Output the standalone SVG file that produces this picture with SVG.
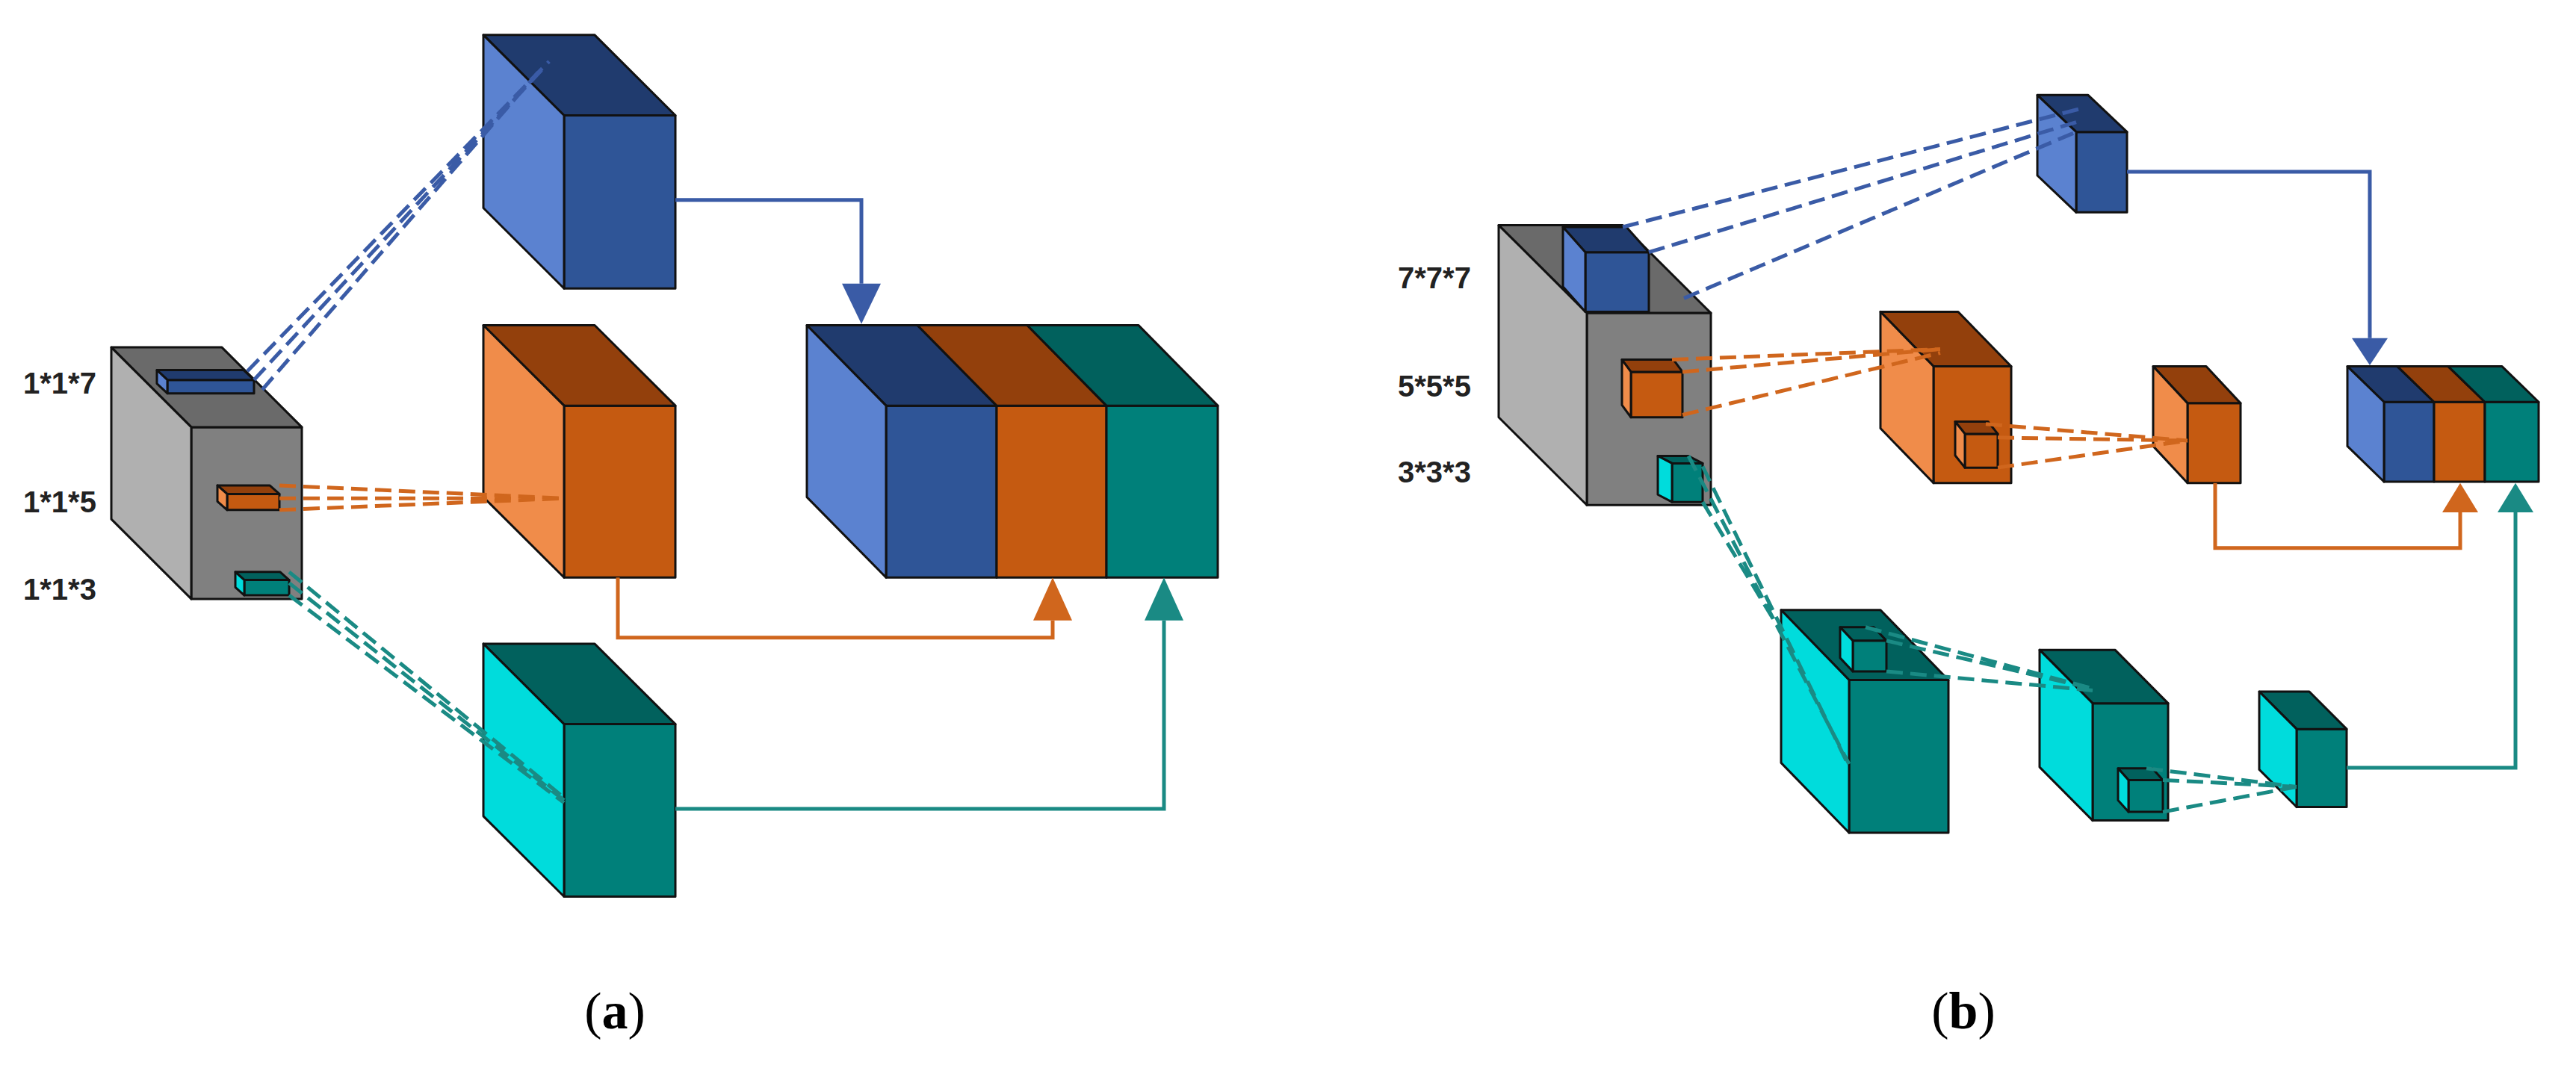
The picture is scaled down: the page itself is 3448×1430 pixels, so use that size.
<svg xmlns="http://www.w3.org/2000/svg" width="3448" height="1430" viewBox="0 0 3448 1430">
<style>
.k{stroke:#111;stroke-width:3;stroke-linejoin:round}
.k *, .d, .a{vector-effect:non-scaling-stroke}
.bf{fill:#2f5597}.bs{fill:#5b82d0}.bt{fill:#203b6e}
.of{fill:#c55a11}.os{fill:#f08c4a}.ot{fill:#93400c}
.tf{fill:#00807a}.ts{fill:#00dcdc}.tt{fill:#01615d}
.gf{fill:#808080}.gs{fill:#b0b0b0}.gt{fill:#6a6a6a}
.d{fill:none;stroke-width:5;stroke-dasharray:22 10}
.a{fill:none;stroke-width:5}
.lab{font-family:"Liberation Sans",Arial,sans-serif;font-weight:bold;font-size:40px;fill:#222}
.cap{font-family:"Liberation Serif","Times New Roman",serif;font-size:70px;fill:#000}
</style>
<rect width="3448" height="1430" fill="#fff"/>
<g transform="scale(1,0.8217)">
<!-- panel a -->
<g id="a-grey" class="k"><rect class="gf" x="256" y="696" width="148" height="280"/><polygon class="gt" points="256,696 404,696 297,566 149,566"/><polygon class="gs" points="256,696 149,566 149,846 256,976"/></g>
<g id="a-k7" class="k"><rect class="bf" x="224" y="619" width="116" height="22"/><polygon class="bt" points="224,619 340,619 326,603 210,603"/><polygon class="bs" points="224,619 210,603 210,625 224,641"/></g>
<g id="a-k5" class="k"><rect class="of" x="304" y="805" width="70" height="26"/><polygon class="ot" points="304,805 374,805 361,791 291,791"/><polygon class="os" points="304,805 291,791 291,817 304,831"/></g>
<g id="a-k3" class="k"><rect class="tf" x="327" y="945" width="60" height="25"/><polygon class="tt" points="327,945 387,945 375,932 315,932"/><polygon class="ts" points="327,945 315,932 315,957 327,970"/></g>
<g id="a-blue" class="k"><rect class="bf" x="755" y="188" width="149" height="282"/><polygon class="bt" points="755,188 904,188 796,57 647,57"/><polygon class="bs" points="755,188 647,57 647,339 755,470"/></g>
<g id="a-orange" class="k"><rect class="of" x="755" y="661" width="149" height="280"/><polygon class="ot" points="755,661 904,661 796,530 647,530"/><polygon class="os" points="755,661 647,530 647,810 755,941"/></g>
<g id="a-teal" class="k"><rect class="tf" x="755" y="1180" width="149" height="281"/><polygon class="tt" points="755,1180 904,1180 796,1049 647,1049"/><polygon class="ts" points="755,1180 647,1049 647,1330 755,1461"/></g>
<g id="a-concat" class="k">
<rect class="bf" x="1186" y="661" width="148" height="280"/><rect class="of" x="1334" y="661" width="147" height="280"/><rect class="tf" x="1481" y="661" width="149" height="280"/>
<polygon class="bt" points="1186,661 1334,661 1228,530 1080,530"/><polygon class="ot" points="1334,661 1481,661 1375,530 1228,530"/><polygon class="tt" points="1481,661 1630,661 1524,530 1375,530"/>
<polygon class="bs" points="1186,661 1080,530 1080,810 1186,941"/></g>
<!-- panel b -->
<g id="b-grey" class="k"><rect class="gf" x="2124" y="510" width="166" height="313"/><polygon class="gt" points="2124,510 2290,510 2172,367 2006,367"/><polygon class="gs" points="2124,510 2006,367 2006,680 2124,823"/></g>
<g id="b-k7" class="k"><rect class="bf" x="2122" y="411" width="85" height="97"/><polygon class="bt" points="2122,411 2207,411 2177,370 2092,370"/><polygon class="bs" points="2122,411 2092,370 2092,467 2122,508"/></g>
<g id="b-k5" class="k"><rect class="of" x="2183" y="606" width="69" height="74"/><polygon class="ot" points="2183,606 2252,606 2240,586 2171,586"/><polygon class="os" points="2183,606 2171,586 2171,660 2183,680"/></g>
<g id="b-k3" class="k"><rect class="tf" x="2238" y="755" width="41" height="63"/><polygon class="tt" points="2238,755 2279,755 2260,743 2219,743"/><polygon class="ts" points="2238,755 2219,743 2219,806 2238,818"/></g>
<g id="b-blue" class="k"><rect class="bf" x="2779" y="215" width="68" height="131"/><polygon class="bt" points="2779,215 2847,215 2795,155 2727,155"/><polygon class="bs" points="2779,215 2727,155 2727,286 2779,346"/></g>
<g id="b-orange1" class="k"><rect class="of" x="2588" y="597" width="104" height="190"/><polygon class="ot" points="2588,597 2692,597 2621,508 2517,508"/><polygon class="os" points="2588,597 2517,508 2517,698 2588,787"/>
<rect class="of" x="2630" y="707" width="44" height="55"/><polygon class="ot" points="2630,707 2674,707 2661,687 2617,687"/><polygon class="os" points="2630,707 2617,687 2617,742 2630,762"/></g>
<g id="b-orange2" class="k"><rect class="of" x="2928" y="657" width="71" height="130"/><polygon class="ot" points="2928,657 2999,657 2953,597 2882,597"/><polygon class="os" points="2928,657 2882,597 2882,727 2928,787"/></g>
<g id="b-concat" class="k">
<rect class="bf" x="3191" y="655" width="67" height="130"/><rect class="of" x="3258" y="655" width="68" height="130"/><rect class="tf" x="3326" y="655" width="72" height="130"/>
<polygon class="bt" points="3191,655 3258,655 3209,597 3142,597"/><polygon class="ot" points="3258,655 3326,655 3277,597 3209,597"/><polygon class="tt" points="3326,655 3398,655 3349,597 3277,597"/>
<polygon class="bs" points="3191,655 3142,597 3142,727 3191,785"/></g>
<g id="b-teal1" class="k"><rect class="tf" x="2475" y="1108" width="133" height="249"/><polygon class="tt" points="2475,1108 2608,1108 2517,994 2384,994"/><polygon class="ts" points="2475,1108 2384,994 2384,1243 2475,1357"/>
<rect class="tf" x="2480" y="1044" width="45" height="50"/><polygon class="tt" points="2480,1044 2525,1044 2508,1022 2463,1022"/><polygon class="ts" points="2480,1044 2463,1022 2463,1072 2480,1094"/></g>
<g id="b-teal2" class="k"><rect class="tf" x="2801" y="1146" width="101" height="191"/><polygon class="tt" points="2801,1146 2902,1146 2831,1059 2730,1059"/><polygon class="ts" points="2801,1146 2730,1059 2730,1250 2801,1337"/>
<rect class="tf" x="2849" y="1271" width="46" height="52"/><polygon class="tt" points="2849,1271 2895,1271 2881,1252 2835,1252"/><polygon class="ts" points="2849,1271 2835,1252 2835,1304 2849,1323"/></g>
<g id="b-teal3" class="k"><rect class="tf" x="3074" y="1188" width="67" height="127"/><polygon class="tt" points="3074,1188 3141,1188 3091,1127 3024,1127"/><polygon class="ts" points="3074,1188 3024,1127 3024,1254 3074,1315"/></g>
<!-- connectors -->
<g id="connectors">
<g stroke="#3a5ba6"><path class="d" d="M331,605 L735,100 M340,619 L728,110 M351,635 L720,118"/>
<path class="d" d="M2172,370 L2785,177 M2207,411 L2779,199 M2254,486 L2779,215"/>
<path class="a" d="M904,326 H1153 V462 M2847,280 H3172 V551"/></g>
<polygon fill="#3a5ba6" points="1127,462 1179,462 1153,528"/><polygon fill="#3a5ba6" points="3148,551 3196,551 3172,595"/>
<g stroke="#d0661d"><path class="d" d="M374,791 L755,812 M374,812 L755,812 M374,831 L755,812"/>
<path class="d" d="M2238,586 L2597,569 M2252,606 L2597,569 M2252,676 L2597,575"/>
<path class="d" d="M2658,691 L2928,718 M2674,713 L2928,718 M2674,762 L2928,718"/>
<path class="a" d="M827,941 V1039 H1409 V1011 M2965,787 V893 H3293 V835"/></g>
<polygon fill="#d0661d" points="1383,1011 1435,1011 1409,941"/><polygon fill="#d0661d" points="3269,835 3317,835 3293,787"/>
<g stroke="#1a8a84"><path class="d" d="M387,932 L755,1300 M387,950 L755,1304 M387,970 L755,1308"/>
<path class="d" d="M2260,743 L2475,1245 M2279,760 L2475,1249 M2279,818 L2384,1030"/>
<path class="d" d="M2497,1022 L2801,1122 M2525,1044 L2801,1122 M2525,1094 L2801,1125"/>
<path class="d" d="M2873,1252 L3074,1282 M2895,1271 L3074,1282 M2895,1323 L3074,1282"/>
<path class="a" d="M904,1318 H1558 V1011 M3141,1251 H3367 V835"/></g>
<polygon fill="#1a8a84" points="1532,1011 1584,1011 1558,941"/><polygon fill="#1a8a84" points="3343,835 3391,835 3367,787"/>
</g>
</g>
<g id="a-labels"><text class="lab" x="31" y="527">1*1*7</text><text class="lab" x="31" y="686">1*1*5</text><text class="lab" x="31" y="803">1*1*3</text></g>
<g id="b-labels"><text class="lab" x="1871" y="386">7*7*7</text><text class="lab" x="1871" y="531">5*5*5</text><text class="lab" x="1871" y="646">3*3*3</text></g>
<text class="cap" x="823" y="1377" text-anchor="middle">(<tspan font-weight="bold">a</tspan>)</text>
<text class="cap" x="2628" y="1377" text-anchor="middle">(<tspan font-weight="bold">b</tspan>)</text>
</svg>
